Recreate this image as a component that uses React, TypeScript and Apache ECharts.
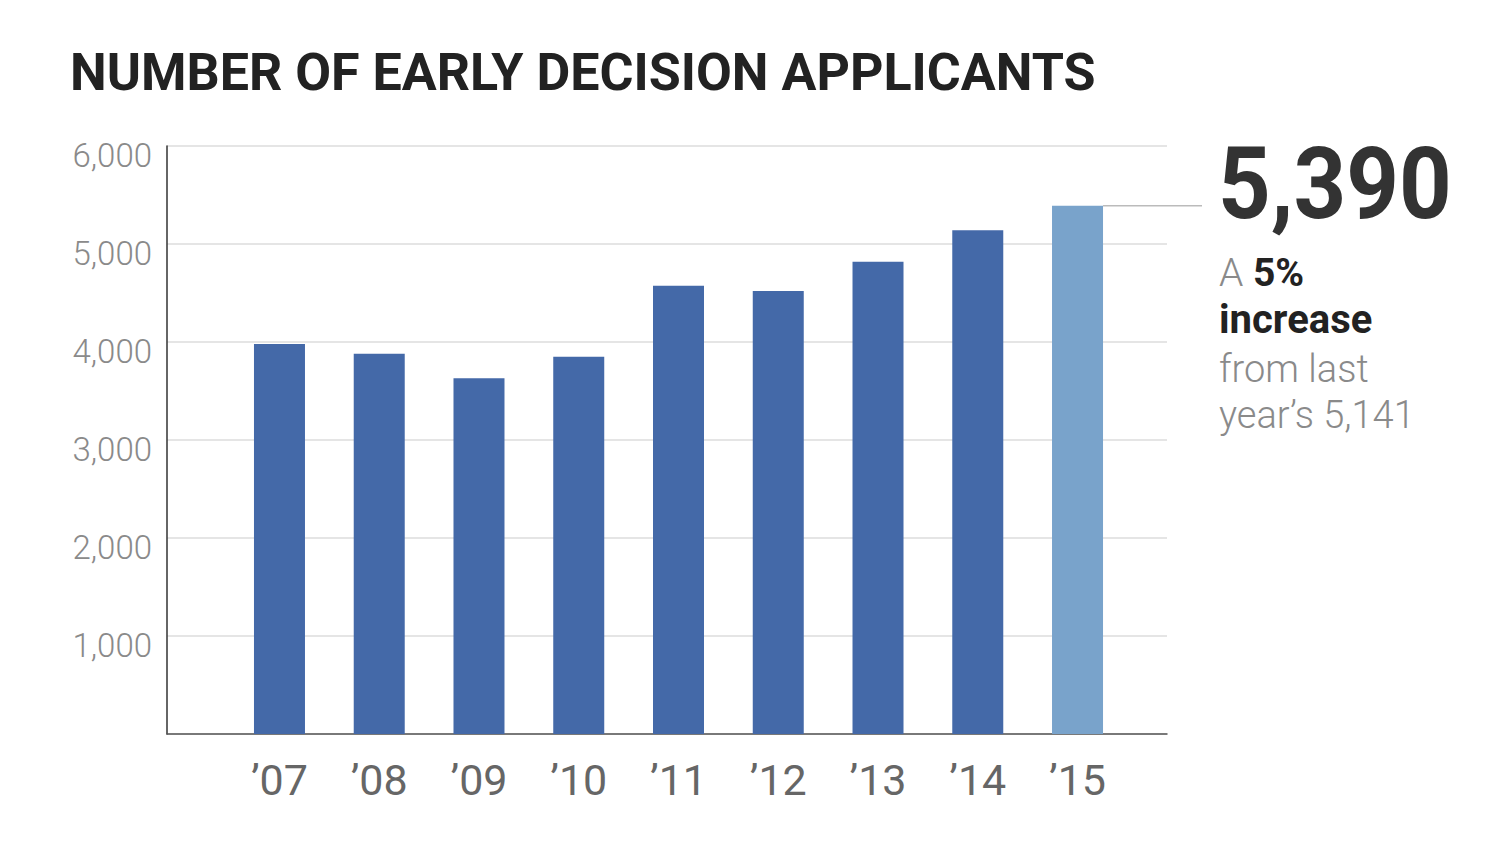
import React, { useEffect, useRef } from 'react';
import * as echarts from 'echarts';

const years = ["’07", "’08", "’09", "’10", "’11", "’12", "’13", "’14", "’15"];
const applicants = [3980, 3880, 3630, 3850, 4575, 4520, 4820, 5141, 5390];
const barColors = ['#4469a8', '#4469a8', '#4469a8', '#4469a8', '#4469a8', '#4469a8', '#4469a8', '#4469a8', '#79a3cb'];
const yTicks = [0, 1000, 2000, 3000, 4000, 5000, 6000];

const FONT = 'Roboto, "Noto Sans", sans-serif';

const App: React.FC = () => {
  const chartRef = useRef<HTMLDivElement>(null);

  useEffect(() => {
    document.body.style.margin = '0';
    if (!chartRef.current) return;
    const chart = echarts.init(chartRef.current, null, { renderer: 'svg' });

    const yMax = yTicks[yTicks.length - 1];
    const step = yTicks[1] - yTicks[0];

    chart.setOption({
      animation: false,
      backgroundColor: '#ffffff',
      title: {
        text: 'NUMBER OF EARLY DECISION APPLICANTS',
        left: 70,
        top: 46,
        padding: 0,
        textStyle: { fontFamily: FONT, fontSize: 52, fontWeight: 'bold', color: '#222222' }
      },
      grid: [
        { left: 167, right: 333, top: 146, bottom: 110 },
        { left: 229.6, right: 372.6, top: 146, bottom: 110 }
      ],
      xAxis: [
        {
          gridIndex: 0,
          type: 'value',
          min: 0,
          max: 1,
          axisLine: { show: true, lineStyle: { color: '#555555', width: 1.5 } },
          axisTick: { show: false },
          axisLabel: { show: false },
          splitLine: { show: false }
        },
        {
          gridIndex: 1,
          type: 'category',
          data: years,
          axisLine: { show: false },
          axisTick: { show: false },
          axisLabel: {
            margin: 24,
            fontFamily: FONT,
            fontSize: 43,
            color: '#666666'
          }
        }
      ],
      yAxis: [
        {
          gridIndex: 0,
          type: 'value',
          min: 0,
          max: yMax,
          interval: step,
          axisLine: { show: true, lineStyle: { color: '#333333', width: 1.5 } },
          axisTick: { show: false },
          splitLine: { show: true, lineStyle: { color: '#dddddd', width: 1.5 } },
          axisLabel: {
            margin: 15,
            verticalAlign: 'top',
            lineHeight: 18,
            fontFamily: FONT,
            fontWeight: 300,
            fontSize: 33,
            color: '#8a8a8a',
            formatter: (v: number) => (v === 0 ? '' : v.toLocaleString('en-US'))
          }
        },
        { gridIndex: 1, type: 'value', min: 0, max: yMax, show: false }
      ],
      series: [
        {
          type: 'bar',
          xAxisIndex: 1,
          yAxisIndex: 1,
          barWidth: 51,
          data: applicants.map((v, i) => ({ value: v, itemStyle: { color: barColors[i] } }))
        }
      ]
    });

    // callout line from the latest bar, plus the side annotation
    const last = applicants.length - 1;
    const p = chart.convertToPixel({ seriesIndex: 0 }, [last, applicants[last]]) as number[];
    const gray = '#8a8a8a';
    const dark = '#222222';
    chart.setOption({
      graphic: [
        {
          type: 'line',
          shape: { x1: p[0] + 25.5, y1: p[1], x2: 1202, y2: p[1] },
          style: { stroke: '#bbbbbb', lineWidth: 1.5 }
        },
        {
          type: 'text',
          x: 1218,
          y: 134,
          scaleX: 0.92,
          style: {
            text: applicants[last].toLocaleString('en-US'),
            fontFamily: FONT,
            fontSize: 100,
            fontWeight: 'bold',
            fill: '#333333',
            verticalAlign: 'top'
          }
        },
        {
          type: 'text',
          x: 1219,
          y: 253,
          style: {
            text: '{a|A }{b|5%}',
            verticalAlign: 'top',
            rich: {
              a: { fontFamily: FONT, fontSize: 39, fontWeight: 300, fill: gray, color: gray },
              b: { fontFamily: FONT, fontSize: 39, fontWeight: 'bold', fill: dark, color: dark }
            }
          }
        },
        {
          type: 'text',
          x: 1219,
          y: 299,
          style: { text: 'increase', fontFamily: FONT, fontSize: 40, fontWeight: 'bold', fill: dark, verticalAlign: 'top' }
        },
        {
          type: 'text',
          x: 1219,
          y: 350,
          style: { text: 'from last', fontFamily: FONT, fontSize: 38, fontWeight: 300, fill: gray, verticalAlign: 'top' }
        },
        {
          type: 'text',
          x: 1219,
          y: 396,
          style: {
            text: 'year’s ' + applicants[last - 1].toLocaleString('en-US'),
            fontFamily: FONT,
            fontSize: 38,
            fontWeight: 300,
            fill: gray,
            verticalAlign: 'top'
          }
        }
      ]
    });

    return () => {
      chart.dispose();
    };
  }, []);

  return (
    <div
      ref={chartRef}
      style={{ position: 'absolute', left: 0, top: 0, width: '1500px', height: '844px' }}
    />
  );
};

export default App;
